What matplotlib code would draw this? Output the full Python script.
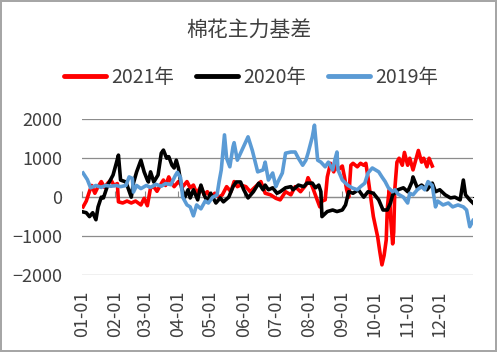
import matplotlib
matplotlib.use("Agg")
import matplotlib.pyplot as plt

plt.rcParams['font.family'] = ['Noto Sans CJK SC', 'DejaVu Sans']

# day of year (0 = Jan 1) and basis values
days_2021 = [1, 4, 7, 9, 12, 15, 18, 21, 24, 27, 30, 33, 34, 38, 42, 46, 50, 55, 58, 61,
             64, 67, 70, 74, 76, 78, 81, 83, 86, 90, 94, 98, 101, 104, 107, 111, 114, 117, 120, 124,
             128, 131, 135, 139, 142, 145, 148, 153, 157, 162, 167, 171, 176, 181, 185, 190, 195, 199, 204, 209,
             211, 215, 219, 222, 224, 227, 229, 232, 235, 236, 239, 243, 245, 247, 249, 251, 253, 257, 260, 263,
             265, 267, 269, 272, 276, 278, 280, 282, 284, 285, 286, 287, 288, 290, 291, 292, 294, 296, 299, 301,
             304, 306, 309, 311, 314, 317, 319, 322, 324, 327]
vals_2021 = [-250, -100, 150, 300, 100, 270, 400, 250, 360, 440, 300, 350, -120, -150, -100, -150, -100, -200, -30, -220,
             240, 270, 150, 350, 440, 300, 520, 400, 270, 400, 270, 400, 240, 310, 100, 270, 60, 140, 0, 100,
             0, 60, 270, 140, 400, 270, 310, 270, 140, 270, 400, 100, 60, -30, -70, 140, 60, 270, 140, 310,
             500, 270, -30, -250, -100, -70, 520, 870, 650, 820, 700, 800, 520, 200, 0, 820, 870, 780, 870, 820,
             870, 500, 100, -500, -1020, -1400, -1740, -1500, -1100, -300, 0, 200, -500, -1200, -900, 200, 900, 1000, 820, 1150,
             820, 1000, 700, 900, 1200, 900, 1000, 780, 1000, 800]

days_2020 = [1, 4, 7, 10, 13, 15, 18, 20, 24, 29, 32, 34, 36, 41, 46, 48, 51, 55, 58, 61,
             62, 64, 67, 71, 74, 76, 79, 81, 84, 86, 88, 90, 93, 96, 99, 101, 104, 108, 111, 114,
             117, 120, 125, 129, 132, 137, 141, 144, 148, 151, 155, 160, 165, 169, 171, 174, 178, 182, 185, 190,
             195, 197, 202, 207, 210, 215, 218, 221, 223, 224, 229, 234, 238, 243, 246, 249, 253, 258, 263, 267,
             272, 277, 281, 285, 288, 290, 295, 300, 304, 308, 309, 313, 317, 322, 327, 330, 334, 339, 344, 348,
             353, 356, 358, 362, 365]
vals_2020 = [-380, -400, -500, -400, -580, -250, 0, -20, 310, 570, 870, 1080, 440, 390, 0, 360, 650, 950, 650, 440,
             390, 650, 390, 570, 1130, 1210, 1000, 1040, 820, 750, 950, 750, 240, 0, 190, -20, 190, -70, 310, 60,
             -120, 100, -150, -20, -120, 0, 270, 390, 390, 190, -20, 140, 360, 190, 310, 190, 240, 100, 140, 240,
             270, 190, 310, 270, 360, 360, 240, 310, 140, -500, -370, -330, -370, -330, -200, 140, 100, 190, 0, 140,
             100, -70, -330, -330, -150, 60, 190, 240, 140, 390, 520, 240, 310, 190, 360, 140, 190, 60, -20, 0,
             -70, 440, 60, -70, -150]

days_2019 = [1, 5, 8, 13, 18, 22, 27, 32, 36, 41, 44, 47, 48, 51, 55, 60, 64, 69, 74, 78,
             83, 87, 89, 92, 94, 98, 101, 104, 107, 111, 115, 118, 122, 126, 128, 130, 133, 135, 138, 141,
             142, 145, 148, 155, 159, 164, 169, 171, 174, 178, 181, 183, 187, 190, 195, 199, 202, 206, 209, 211,
             215, 217, 220, 223, 227, 230, 234, 236, 238, 239, 243, 248, 252, 257, 260, 264, 267, 271, 274, 277,
             280, 283, 286, 290, 292, 295, 300, 304, 306, 309, 313, 317, 320, 323, 327, 330, 332, 337, 342, 346,
             351, 356, 359, 362, 365]
vals_2019 = [620, 450, 240, 300, 250, 300, 280, 300, 270, 300, 520, 480, 130, 300, 220, 300, 250, 330, 280, 350,
             320, 550, 640, 500, 0, -200, -250, -480, -200, -300, -100, -150, 0, 50, 400, 700, 1600, 1000, 780, 1300,
             1400, 950, 1130, 1550, 1200, 650, 700, 900, 440, 620, 270, 400, 620, 1130, 1160, 1160, 1000, 820, 950, 1130,
             1550, 1850, 950, 900, 780, 900, 700, 950, 1160, 700, 440, 310, 240, 190, 270, 360, 620, 750, 700, 650,
             520, 400, 240, 140, 190, 80, 0, -150, 100, 60, 190, 270, 190, 400, 300, -250, -100, -200, -150, -250,
             -200, -250, -330, -760, -600]

month_starts = [0, 31, 59, 90, 120, 151, 181, 212, 243, 273, 304, 334]
month_labels = ['01-01', '02-01', '03-01', '04-01', '05-01', '06-01',
                '07-01', '08-01', '09-01', '10-01', '11-01', '12-01']
y_ticks = [-2000, -1000, 0, 1000, 2000]

text_color = '#404040'
grid_color = '#8C8C8C'

fig = plt.figure(figsize=(4.97, 3.52), dpi=100)
fig.patch.set_edgecolor('#A6A6A6')
fig.patch.set_linewidth(1.5)
ax = fig.add_axes([0.165, 0.2188, 0.7867, 0.4422])

ax.plot(days_2021, vals_2021, color='#FF0000', lw=2.6, label='2021年', solid_joinstyle='round')
ax.plot(days_2020, vals_2020, color='#000000', lw=2.6, label='2020年', solid_joinstyle='round')
ax.plot(days_2019, vals_2019, color='#5B9BD5', lw=2.6, label='2019年', solid_joinstyle='round')

ax.set_xlim(0, 365)
ax.set_ylim(-2000, 2000)
ax.set_yticks(y_ticks)
ax.grid(axis='y', color=grid_color, lw=0.9)
ax.set_axisbelow(True)
for s in ax.spines.values():
    s.set_visible(False)
ax.tick_params(axis='y', length=0, pad=14, labelsize=13, labelcolor=text_color)
ax.set_xticks(month_starts)
ax.set_xticklabels(month_labels, rotation=90)
ax.tick_params(axis='x', length=0, pad=11, labelsize=13, labelcolor=text_color)

# zero axis line with month tick marks
zero_ax = ax.secondary_xaxis(0.5)
zero_ax.set_xticks(month_starts)
zero_ax.set_xticklabels([])
zero_ax.spines['bottom'].set_color(grid_color)
zero_ax.tick_params(axis='x', direction='out', length=4, color=grid_color)

fig.text(0.5, 0.912, '棉花主力基差', ha='center', va='center', fontsize=15, color=text_color)
leg = fig.legend(loc='center', bbox_to_anchor=(0.505, 0.781), ncol=3, frameon=False,
                 fontsize=14, handlelength=2.2, handletextpad=0.25, columnspacing=1.1)
for t in leg.get_texts():
    t.set_color(text_color)
for h in leg.get_lines():
    h.set_linewidth(3.5)
    h.set_solid_capstyle('round')

fig.savefig('out.png', dpi=100)
